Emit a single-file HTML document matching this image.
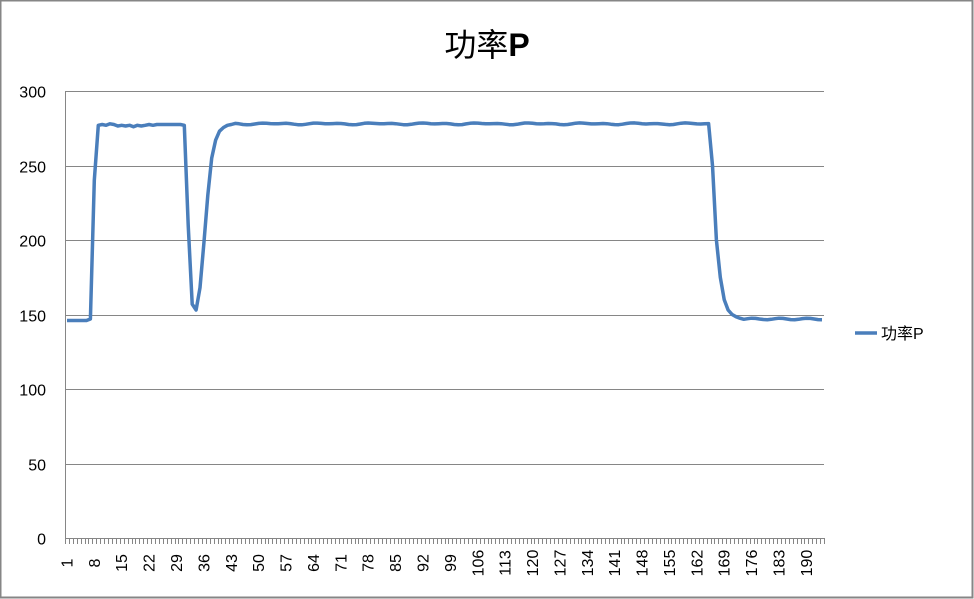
<!DOCTYPE html>
<html><head><meta charset="utf-8"><style>
html,body{margin:0;padding:0;background:#fff}
svg{display:block}
text{font-family:"Liberation Sans","Noto Sans CJK SC",sans-serif}
</style></head><body>
<svg id="s" width="974" height="599" xmlns="http://www.w3.org/2000/svg">
<rect x="0.5" y="0.5" width="972" height="597" fill="#fff" stroke="#868686" stroke-width="2"/>
<text x="487" y="56" font-size="32" text-anchor="middle" fill="#000">功率<tspan font-weight="bold">P</tspan></text>
<g id="grid" stroke="#868686" stroke-width="1"></g>
<g id="ylab" font-size="16" fill="#000" text-anchor="end"></g>
<g id="xlab" font-size="16" fill="#000"></g>
<polyline id="line" fill="none" stroke="#4a7ebb" stroke-width="3.5" stroke-linejoin="round"/>
<line x1="855" y1="333" x2="877" y2="333" stroke="#4a7ebb" stroke-width="3.5"/>
<text x="881" y="339" font-size="16" fill="#000">功率P</text>
</svg>
<script>
var L=65,R=824,T=91,B=538,N=194,w=(R-L)/N,k=(B-T)/300;
var ns="http://www.w3.org/2000/svg";
function el(p,t,a,txt){var e=document.createElementNS(ns,t);for(var q in a)e.setAttribute(q,a[q]);if(txt!=null)e.textContent=txt;document.getElementById(p).appendChild(e);}
for(var v=0;v<=300;v+=50){var y=Math.round(B-v*k)+0.5;el('grid','line',{x1:L,x2:R,y1:y,y2:y});el('ylab','text',{x:46,y:y+6},v);}
el('grid','line',{x1:L+0.5,x2:L+0.5,y1:T,y2:B});
for(var i=0;i<=N;i++){var x=Math.round(L+i*w)+0.5;el('grid','line',{x1:x,x2:x,y1:B,y2:B+6});}
for(var i=1;i<=190;i+=7){var x=L+(i-0.5)*w+5.5;el('xlab','text',{x:x,y:563,transform:'rotate(-90 '+x+' 563)','text-anchor':'middle'},i);}
var d={};
for(var i=1;i<=6;i++)d[i]=146;
d[7]=147;
var wig=[240,277,277.5,277,278,277.5,276.5,277,276.5,277,276,277,276.5,277,277.5,277,277.5,277.5,277.5,277.5,277.5,277.5,277.5];
for(var i=8;i<=30;i++)d[i]=wig[i-8];
d[31]=277;d[32]=210;d[33]=157;d[34]=153;d[35]=168;d[36]=198;d[37]=230;d[38]=255;d[39]=267;d[40]=273;d[41]=275.5;d[42]=277;d[43]=277.5;
for(var i=44;i<=165;i++){d[i]=278+0.7*Math.sin(i*0.7)*Math.sin(i*0.23);}
d[166]=250;d[167]=200;d[168]=175;d[169]=160;d[170]=153;d[171]=150;d[172]=148.5;d[173]=147.5;
for(var i=174;i<=194;i++)d[i]=147+0.5*Math.sin(i*0.9);
var pts=[];for(var i=1;i<=194;i++)pts.push((L+(i-0.5)*w).toFixed(1)+','+(B-d[i]*k).toFixed(1));
document.getElementById('line').setAttribute('points',pts.join(' '));
</script>
</body></html>
